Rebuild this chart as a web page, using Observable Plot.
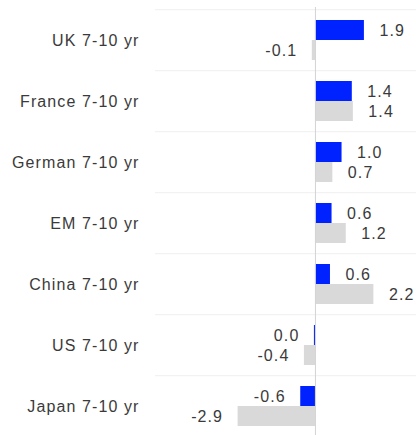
<!DOCTYPE html>
<html>
<head>
<meta charset="utf-8">
<script src="https://cdn.jsdelivr.net/npm/d3@7"></script>
<script src="https://cdn.jsdelivr.net/npm/@observablehq/plot@0.6"></script>
<style>
  html, body { margin: 0; padding: 0; background: #fff; }
  #chart svg { display: block; }
</style>
</head>
<body>
<div id="chart"></div>
<script>
const categories = ["UK 7-10 yr", "France 7-10 yr", "German 7-10 yr", "EM 7-10 yr", "China 7-10 yr", "US 7-10 yr", "Japan 7-10 yr"];
const currentValues = [1.86, 1.40, 1.01, 0.63, 0.57, -0.04, -0.56];
const previousValues = [-0.12, 1.44, 0.66, 1.17, 2.22, -0.42, -2.94];

const xDomain = [-6.08, 3.84];

const cur = categories.map((c, i) => ({category: c, value: currentValues[i]}));
const prev = categories.map((c, i) => ({category: c, value: previousValues[i]}));

const fmt = v => (Math.round(v * 10) === 0 ? "0.0" : v.toFixed(1));

const font = "'Liberation Sans', Arial, Helvetica, sans-serif";

const labelMarks = (data, dy) => [
  Plot.text(data.filter(d => d.value >= 0), {x: "value", y: "category", text: d => fmt(d.value), textAnchor: "start", dx: 15, dy, fill: "#3a3a3a", fontSize: 16}),
  Plot.text(data.filter(d => d.value < 0), {x: "value", y: "category", text: d => fmt(d.value), textAnchor: "end", dx: -15, dy, fill: "#3a3a3a", fontSize: 16})
];

const chart = Plot.plot({
  width: 416,
  height: 435,
  marginLeft: 155,
  marginRight: 0,
  marginTop: 7,
  marginBottom: -3,
  style: {fontFamily: font, fontSize: "16px", letterSpacing: "1.1px", background: "#fff", overflow: "visible"},
  x: {domain: xDomain, axis: null},
  y: {domain: categories, paddingInner: 0.35, paddingOuter: 0.175},
  marks: [
    Plot.ruleY(categories, {y: d => d, dy: -30.8, x1: xDomain[0], x2: xDomain[1], stroke: "#efefef", strokeWidth: 1}),
    Plot.barX(prev, {x: "value", y: "category", fill: "#d9d9d9", insetTop: 20}),
    Plot.barX(cur, {x: "value", y: "category", fill: "#0022ff", insetBottom: 20}),
    Plot.ruleX([0], {stroke: "#d4d4d4", strokeWidth: 1}),
    ...labelMarks(cur, -10),
    ...labelMarks(prev, 10),
    Plot.axisY({tickSize: 0, tickPadding: 16, fontSize: 16, fill: "#3a3a3a", label: null})
  ]
});

document.getElementById("chart").appendChild(chart);
</script>
</body>
</html>
